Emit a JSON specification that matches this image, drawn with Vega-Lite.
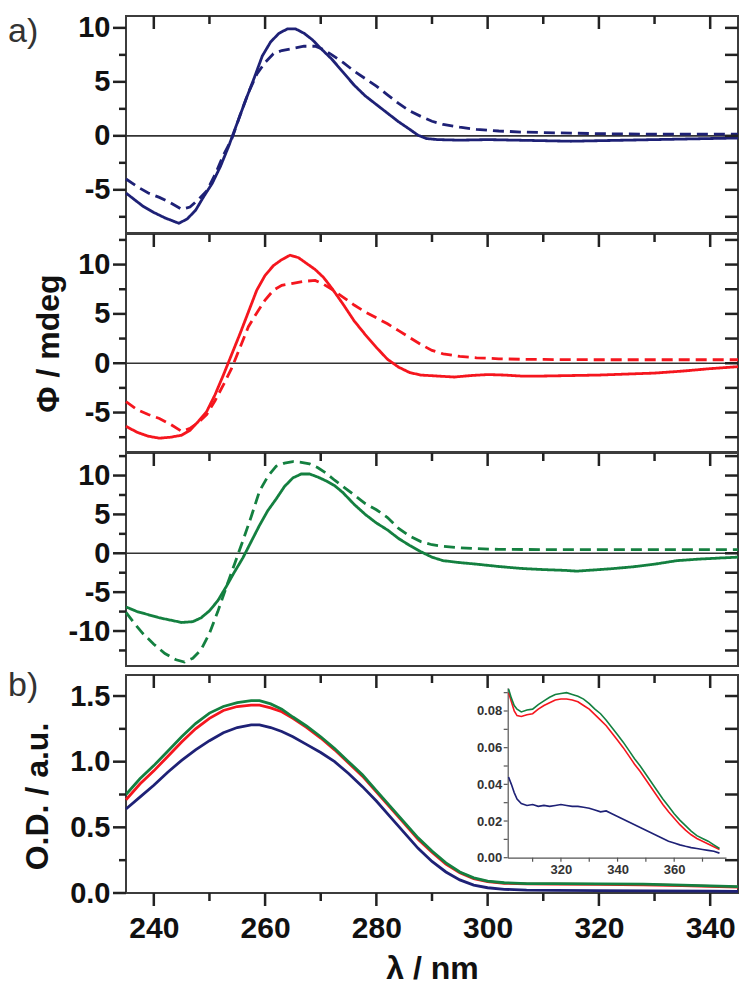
{
"$schema": "https://vega.github.io/schema/vega-lite/v6.json",
"padding": {"left": 7, "top": 12, "right": 0, "bottom": 0},
"spacing": -2,
"config": {
  "view": {"stroke": "#3c3c3c", "strokeWidth": 2},
  "font": "Liberation Sans",
  "tick": {"color": "#222222", "opacity": 1, "thickness": 2.5},
  "axis": {"grid": false, "domain": false, "ticks": false, "minExtent": 0, "labelFont": "Liberation Sans", "labelFontWeight": "bold", "labelFontSize": 29, "labelColor": "#111111", "labelPadding": 16, "titleFont": "Liberation Sans", "titleFontWeight": "bold", "titleFontSize": 32, "titleColor": "#111111"}
},
"datasets": {
"cd1": [
{"wl":235,"v":-5.3,"type":"solid"},{"wl":236.5,"v":-5.9,"type":"solid"},{"wl":238,"v":-6.5,"type":"solid"},{"wl":240,"v":-7.1,"type":"solid"},{"wl":242,"v":-7.6,"type":"solid"},{"wl":243.5,"v":-7.9,"type":"solid"},{"wl":244.5,"v":-8.1,"type":"solid"},{"wl":246,"v":-7.7,"type":"solid"},{"wl":247.5,"v":-6.9,"type":"solid"},{"wl":249,"v":-5.6,"type":"solid"},{"wl":250.5,"v":-4.4,"type":"solid"},{"wl":252,"v":-2.8,"type":"solid"},{"wl":253.5,"v":-0.9,"type":"solid"},{"wl":255,"v":1.2,"type":"solid"},{"wl":256.5,"v":3.3,"type":"solid"},{"wl":258,"v":5.3,"type":"solid"},{"wl":259.5,"v":7.4,"type":"solid"},{"wl":261,"v":8.7,"type":"solid"},{"wl":262.5,"v":9.5,"type":"solid"},{"wl":264,"v":9.9,"type":"solid"},{"wl":265.5,"v":9.9,"type":"solid"},{"wl":267,"v":9.5,"type":"solid"},{"wl":268.5,"v":8.9,"type":"solid"},{"wl":270,"v":8.1,"type":"solid"},{"wl":272,"v":7.1,"type":"solid"},{"wl":274,"v":5.9,"type":"solid"},{"wl":276,"v":4.7,"type":"solid"},{"wl":278,"v":3.7,"type":"solid"},{"wl":280,"v":2.9,"type":"solid"},{"wl":282,"v":2.1,"type":"solid"},{"wl":284,"v":1.3,"type":"solid"},{"wl":286,"v":0.6,"type":"solid"},{"wl":287.5,"v":0.05,"type":"solid"},{"wl":289,"v":-0.25,"type":"solid"},{"wl":291,"v":-0.35,"type":"solid"},{"wl":295,"v":-0.4,"type":"solid"},{"wl":300,"v":-0.35,"type":"solid"},{"wl":305,"v":-0.4,"type":"solid"},{"wl":310,"v":-0.45,"type":"solid"},{"wl":315,"v":-0.5,"type":"solid"},{"wl":320,"v":-0.45,"type":"solid"},{"wl":325,"v":-0.4,"type":"solid"},{"wl":330,"v":-0.35,"type":"solid"},{"wl":335,"v":-0.3,"type":"solid"},{"wl":340,"v":-0.25,"type":"solid"},{"wl":345,"v":-0.2,"type":"solid"},
{"wl":235,"v":-4.0,"type":"dashed"},{"wl":237,"v":-4.7,"type":"dashed"},{"wl":239,"v":-5.3,"type":"dashed"},{"wl":241,"v":-5.7,"type":"dashed"},{"wl":243,"v":-6.2,"type":"dashed"},{"wl":245,"v":-6.8,"type":"dashed"},{"wl":246.5,"v":-6.6,"type":"dashed"},{"wl":248,"v":-5.9,"type":"dashed"},{"wl":249.5,"v":-5.1,"type":"dashed"},{"wl":251,"v":-3.6,"type":"dashed"},{"wl":252.5,"v":-1.8,"type":"dashed"},{"wl":254,"v":-0.3,"type":"dashed"},{"wl":255.5,"v":1.9,"type":"dashed"},{"wl":257,"v":4.0,"type":"dashed"},{"wl":258.5,"v":5.7,"type":"dashed"},{"wl":260,"v":6.8,"type":"dashed"},{"wl":261.5,"v":7.6,"type":"dashed"},{"wl":263,"v":7.9,"type":"dashed"},{"wl":265,"v":8.1,"type":"dashed"},{"wl":267,"v":8.3,"type":"dashed"},{"wl":269,"v":8.3,"type":"dashed"},{"wl":270.5,"v":8.0,"type":"dashed"},{"wl":272,"v":7.5,"type":"dashed"},{"wl":274,"v":6.8,"type":"dashed"},{"wl":276,"v":6.0,"type":"dashed"},{"wl":278,"v":5.3,"type":"dashed"},{"wl":280,"v":4.6,"type":"dashed"},{"wl":282,"v":3.8,"type":"dashed"},{"wl":284,"v":3.0,"type":"dashed"},{"wl":286,"v":2.3,"type":"dashed"},{"wl":288,"v":1.8,"type":"dashed"},{"wl":290,"v":1.35,"type":"dashed"},{"wl":292,"v":1.05,"type":"dashed"},{"wl":295,"v":0.8,"type":"dashed"},{"wl":298,"v":0.6,"type":"dashed"},{"wl":302,"v":0.45,"type":"dashed"},{"wl":306,"v":0.35,"type":"dashed"},{"wl":310,"v":0.3,"type":"dashed"},{"wl":315,"v":0.25,"type":"dashed"},{"wl":320,"v":0.2,"type":"dashed"},{"wl":325,"v":0.18,"type":"dashed"},{"wl":330,"v":0.15,"type":"dashed"},{"wl":335,"v":0.15,"type":"dashed"},{"wl":340,"v":0.15,"type":"dashed"},{"wl":345,"v":0.15,"type":"dashed"}
],
"cd2": [
{"wl":235,"v":-6.4,"type":"solid"},{"wl":237,"v":-7.0,"type":"solid"},{"wl":239,"v":-7.4,"type":"solid"},{"wl":241,"v":-7.6,"type":"solid"},{"wl":243,"v":-7.5,"type":"solid"},{"wl":245,"v":-7.3,"type":"solid"},{"wl":246.5,"v":-6.8,"type":"solid"},{"wl":248,"v":-5.9,"type":"solid"},{"wl":249.5,"v":-4.9,"type":"solid"},{"wl":251,"v":-3.2,"type":"solid"},{"wl":252.5,"v":-1.2,"type":"solid"},{"wl":254,"v":0.9,"type":"solid"},{"wl":255.5,"v":3.0,"type":"solid"},{"wl":257,"v":5.2,"type":"solid"},{"wl":258.5,"v":7.4,"type":"solid"},{"wl":260,"v":8.9,"type":"solid"},{"wl":261.5,"v":9.9,"type":"solid"},{"wl":263,"v":10.5,"type":"solid"},{"wl":264.5,"v":10.95,"type":"solid"},{"wl":266,"v":10.7,"type":"solid"},{"wl":267.5,"v":10.1,"type":"solid"},{"wl":269,"v":9.5,"type":"solid"},{"wl":270.5,"v":8.7,"type":"solid"},{"wl":272,"v":7.6,"type":"solid"},{"wl":274,"v":6.0,"type":"solid"},{"wl":276,"v":4.3,"type":"solid"},{"wl":278,"v":2.9,"type":"solid"},{"wl":280,"v":1.6,"type":"solid"},{"wl":282,"v":0.4,"type":"solid"},{"wl":284,"v":-0.4,"type":"solid"},{"wl":286,"v":-0.95,"type":"solid"},{"wl":288,"v":-1.2,"type":"solid"},{"wl":291,"v":-1.3,"type":"solid"},{"wl":294,"v":-1.4,"type":"solid"},{"wl":297,"v":-1.25,"type":"solid"},{"wl":300,"v":-1.15,"type":"solid"},{"wl":303,"v":-1.2,"type":"solid"},{"wl":306,"v":-1.3,"type":"solid"},{"wl":310,"v":-1.3,"type":"solid"},{"wl":315,"v":-1.25,"type":"solid"},{"wl":320,"v":-1.2,"type":"solid"},{"wl":325,"v":-1.1,"type":"solid"},{"wl":330,"v":-1.0,"type":"solid"},{"wl":335,"v":-0.8,"type":"solid"},{"wl":340,"v":-0.55,"type":"solid"},{"wl":345,"v":-0.35,"type":"solid"},
{"wl":235,"v":-3.9,"type":"dashed"},{"wl":237,"v":-4.7,"type":"dashed"},{"wl":239,"v":-5.2,"type":"dashed"},{"wl":241,"v":-5.6,"type":"dashed"},{"wl":243,"v":-6.2,"type":"dashed"},{"wl":245,"v":-6.9,"type":"dashed"},{"wl":246.5,"v":-6.6,"type":"dashed"},{"wl":248,"v":-6.0,"type":"dashed"},{"wl":249.5,"v":-5.2,"type":"dashed"},{"wl":251,"v":-3.8,"type":"dashed"},{"wl":252.5,"v":-2.2,"type":"dashed"},{"wl":254,"v":-0.5,"type":"dashed"},{"wl":255.5,"v":1.6,"type":"dashed"},{"wl":257,"v":3.7,"type":"dashed"},{"wl":258.5,"v":5.1,"type":"dashed"},{"wl":260,"v":6.4,"type":"dashed"},{"wl":261.5,"v":7.4,"type":"dashed"},{"wl":263,"v":7.9,"type":"dashed"},{"wl":265,"v":8.1,"type":"dashed"},{"wl":267,"v":8.3,"type":"dashed"},{"wl":269,"v":8.4,"type":"dashed"},{"wl":270.5,"v":8.0,"type":"dashed"},{"wl":272,"v":7.5,"type":"dashed"},{"wl":274,"v":6.7,"type":"dashed"},{"wl":276,"v":5.9,"type":"dashed"},{"wl":278,"v":5.2,"type":"dashed"},{"wl":280,"v":4.6,"type":"dashed"},{"wl":282,"v":4.0,"type":"dashed"},{"wl":284,"v":3.3,"type":"dashed"},{"wl":286,"v":2.6,"type":"dashed"},{"wl":288,"v":1.9,"type":"dashed"},{"wl":290,"v":1.3,"type":"dashed"},{"wl":292,"v":0.95,"type":"dashed"},{"wl":295,"v":0.7,"type":"dashed"},{"wl":298,"v":0.55,"type":"dashed"},{"wl":302,"v":0.45,"type":"dashed"},{"wl":306,"v":0.4,"type":"dashed"},{"wl":310,"v":0.38,"type":"dashed"},{"wl":320,"v":0.35,"type":"dashed"},{"wl":330,"v":0.35,"type":"dashed"},{"wl":340,"v":0.35,"type":"dashed"},{"wl":345,"v":0.35,"type":"dashed"}
],
"cd3": [
{"wl":235,"v":-6.9,"type":"solid"},{"wl":237,"v":-7.5,"type":"solid"},{"wl":239,"v":-7.9,"type":"solid"},{"wl":241,"v":-8.3,"type":"solid"},{"wl":243,"v":-8.6,"type":"solid"},{"wl":245,"v":-8.9,"type":"solid"},{"wl":247,"v":-8.8,"type":"solid"},{"wl":248.5,"v":-8.3,"type":"solid"},{"wl":250,"v":-7.4,"type":"solid"},{"wl":251.5,"v":-6.1,"type":"solid"},{"wl":253,"v":-4.3,"type":"solid"},{"wl":254.5,"v":-2.4,"type":"solid"},{"wl":256,"v":-0.6,"type":"solid"},{"wl":257.5,"v":1.5,"type":"solid"},{"wl":259,"v":3.6,"type":"solid"},{"wl":260.5,"v":5.5,"type":"solid"},{"wl":262,"v":7.0,"type":"solid"},{"wl":263.5,"v":8.6,"type":"solid"},{"wl":265,"v":9.7,"type":"solid"},{"wl":266.5,"v":10.2,"type":"solid"},{"wl":268,"v":10.2,"type":"solid"},{"wl":269.5,"v":9.8,"type":"solid"},{"wl":271,"v":9.3,"type":"solid"},{"wl":272.5,"v":8.7,"type":"solid"},{"wl":274,"v":7.8,"type":"solid"},{"wl":276,"v":6.3,"type":"solid"},{"wl":278,"v":5.0,"type":"solid"},{"wl":280,"v":3.9,"type":"solid"},{"wl":282,"v":3.0,"type":"solid"},{"wl":284,"v":1.9,"type":"solid"},{"wl":286,"v":1.0,"type":"solid"},{"wl":288,"v":0.2,"type":"solid"},{"wl":290,"v":-0.5,"type":"solid"},{"wl":292,"v":-0.95,"type":"solid"},{"wl":295,"v":-1.2,"type":"solid"},{"wl":298,"v":-1.4,"type":"solid"},{"wl":302,"v":-1.7,"type":"solid"},{"wl":306,"v":-1.95,"type":"solid"},{"wl":310,"v":-2.1,"type":"solid"},{"wl":314,"v":-2.2,"type":"solid"},{"wl":316,"v":-2.3,"type":"solid"},{"wl":318,"v":-2.2,"type":"solid"},{"wl":322,"v":-2.0,"type":"solid"},{"wl":326,"v":-1.75,"type":"solid"},{"wl":330,"v":-1.4,"type":"solid"},{"wl":334,"v":-0.95,"type":"solid"},{"wl":338,"v":-0.75,"type":"solid"},{"wl":342,"v":-0.6,"type":"solid"},{"wl":345,"v":-0.5,"type":"solid"},
{"wl":235,"v":-7.6,"type":"dashed"},{"wl":236.5,"v":-9.0,"type":"dashed"},{"wl":238,"v":-10.3,"type":"dashed"},{"wl":240,"v":-11.7,"type":"dashed"},{"wl":242,"v":-12.9,"type":"dashed"},{"wl":244,"v":-13.7,"type":"dashed"},{"wl":245.5,"v":-14.0,"type":"dashed"},{"wl":247,"v":-13.5,"type":"dashed"},{"wl":248.5,"v":-12.4,"type":"dashed"},{"wl":250,"v":-10.3,"type":"dashed"},{"wl":251.5,"v":-7.5,"type":"dashed"},{"wl":253,"v":-4.4,"type":"dashed"},{"wl":254.5,"v":-1.4,"type":"dashed"},{"wl":256,"v":1.6,"type":"dashed"},{"wl":257.5,"v":4.7,"type":"dashed"},{"wl":259,"v":8.0,"type":"dashed"},{"wl":260.5,"v":9.9,"type":"dashed"},{"wl":262,"v":11.2,"type":"dashed"},{"wl":263.5,"v":11.6,"type":"dashed"},{"wl":265,"v":11.8,"type":"dashed"},{"wl":266.5,"v":11.7,"type":"dashed"},{"wl":268,"v":11.5,"type":"dashed"},{"wl":269.5,"v":11.0,"type":"dashed"},{"wl":271,"v":10.3,"type":"dashed"},{"wl":272.5,"v":9.4,"type":"dashed"},{"wl":274,"v":8.6,"type":"dashed"},{"wl":276,"v":7.5,"type":"dashed"},{"wl":278,"v":6.4,"type":"dashed"},{"wl":280,"v":5.6,"type":"dashed"},{"wl":282,"v":4.6,"type":"dashed"},{"wl":284,"v":3.2,"type":"dashed"},{"wl":286,"v":2.2,"type":"dashed"},{"wl":288,"v":1.5,"type":"dashed"},{"wl":290,"v":1.1,"type":"dashed"},{"wl":292,"v":0.9,"type":"dashed"},{"wl":295,"v":0.7,"type":"dashed"},{"wl":298,"v":0.6,"type":"dashed"},{"wl":302,"v":0.5,"type":"dashed"},{"wl":310,"v":0.48,"type":"dashed"},{"wl":320,"v":0.48,"type":"dashed"},{"wl":330,"v":0.48,"type":"dashed"},{"wl":340,"v":0.48,"type":"dashed"},{"wl":345,"v":0.48,"type":"dashed"}
],
"abs": [
{"s":"blue","wl":235,"v":0.64},{"s":"blue","wl":237.5,"v":0.73},{"s":"blue","wl":240,"v":0.82},{"s":"blue","wl":242.5,"v":0.92},{"s":"blue","wl":245,"v":1.01},{"s":"blue","wl":247.5,"v":1.09},{"s":"blue","wl":250,"v":1.16},{"s":"blue","wl":252.5,"v":1.22},{"s":"blue","wl":255,"v":1.26},{"s":"blue","wl":257.5,"v":1.28},{"s":"blue","wl":259,"v":1.28},{"s":"blue","wl":261,"v":1.26},{"s":"blue","wl":263,"v":1.23},{"s":"blue","wl":265,"v":1.19},{"s":"blue","wl":267.5,"v":1.13},{"s":"blue","wl":270,"v":1.07},{"s":"blue","wl":272.5,"v":1.0},{"s":"blue","wl":275,"v":0.91},{"s":"blue","wl":277.5,"v":0.81},{"s":"blue","wl":280,"v":0.7},{"s":"blue","wl":282.5,"v":0.58},{"s":"blue","wl":285,"v":0.46},{"s":"blue","wl":287.5,"v":0.34},{"s":"blue","wl":290,"v":0.24},{"s":"blue","wl":292.5,"v":0.16},{"s":"blue","wl":295,"v":0.1},{"s":"blue","wl":297.5,"v":0.06},{"s":"blue","wl":300,"v":0.04},{"s":"blue","wl":303,"v":0.028},{"s":"blue","wl":307,"v":0.022},{"s":"blue","wl":312,"v":0.02},{"s":"blue","wl":320,"v":0.018},{"s":"blue","wl":330,"v":0.016},{"s":"blue","wl":340,"v":0.014},{"s":"blue","wl":345,"v":0.013},
{"s":"red","wl":235,"v":0.71},{"s":"red","wl":237.5,"v":0.83},{"s":"red","wl":240,"v":0.93},{"s":"red","wl":242.5,"v":1.04},{"s":"red","wl":245,"v":1.15},{"s":"red","wl":247.5,"v":1.25},{"s":"red","wl":250,"v":1.33},{"s":"red","wl":252.5,"v":1.39},{"s":"red","wl":255,"v":1.42},{"s":"red","wl":257.5,"v":1.43},{"s":"red","wl":259,"v":1.43},{"s":"red","wl":261,"v":1.41},{"s":"red","wl":263,"v":1.38},{"s":"red","wl":265,"v":1.33},{"s":"red","wl":267.5,"v":1.26},{"s":"red","wl":270,"v":1.18},{"s":"red","wl":272.5,"v":1.09},{"s":"red","wl":275,"v":0.99},{"s":"red","wl":277.5,"v":0.89},{"s":"red","wl":280,"v":0.77},{"s":"red","wl":282.5,"v":0.65},{"s":"red","wl":285,"v":0.53},{"s":"red","wl":287.5,"v":0.41},{"s":"red","wl":290,"v":0.31},{"s":"red","wl":292.5,"v":0.22},{"s":"red","wl":295,"v":0.155},{"s":"red","wl":297.5,"v":0.11},{"s":"red","wl":300,"v":0.086},{"s":"red","wl":303,"v":0.074},{"s":"red","wl":307,"v":0.069},{"s":"red","wl":312,"v":0.068},{"s":"red","wl":320,"v":0.066},{"s":"red","wl":328,"v":0.063},{"s":"red","wl":335,"v":0.056},{"s":"red","wl":340,"v":0.05},{"s":"red","wl":345,"v":0.044},
{"s":"green","wl":235,"v":0.75},{"s":"green","wl":237.5,"v":0.87},{"s":"green","wl":240,"v":0.97},{"s":"green","wl":242.5,"v":1.08},{"s":"green","wl":245,"v":1.19},{"s":"green","wl":247.5,"v":1.29},{"s":"green","wl":250,"v":1.37},{"s":"green","wl":252.5,"v":1.42},{"s":"green","wl":255,"v":1.45},{"s":"green","wl":257.5,"v":1.465},{"s":"green","wl":259,"v":1.465},{"s":"green","wl":261,"v":1.44},{"s":"green","wl":263,"v":1.4},{"s":"green","wl":265,"v":1.34},{"s":"green","wl":267.5,"v":1.27},{"s":"green","wl":270,"v":1.19},{"s":"green","wl":272.5,"v":1.1},{"s":"green","wl":275,"v":1.0},{"s":"green","wl":277.5,"v":0.9},{"s":"green","wl":280,"v":0.78},{"s":"green","wl":282.5,"v":0.66},{"s":"green","wl":285,"v":0.54},{"s":"green","wl":287.5,"v":0.42},{"s":"green","wl":290,"v":0.32},{"s":"green","wl":292.5,"v":0.23},{"s":"green","wl":295,"v":0.16},{"s":"green","wl":297.5,"v":0.115},{"s":"green","wl":300,"v":0.09},{"s":"green","wl":303,"v":0.078},{"s":"green","wl":307,"v":0.072},{"s":"green","wl":312,"v":0.071},{"s":"green","wl":320,"v":0.07},{"s":"green","wl":328,"v":0.067},{"s":"green","wl":335,"v":0.06},{"s":"green","wl":340,"v":0.055},{"s":"green","wl":345,"v":0.048}
],
"inset": [
{"s":"blue","wl":301.5,"v":0.044},{"s":"blue","wl":302.5,"v":0.04},{"s":"blue","wl":303.5,"v":0.0355},{"s":"blue","wl":304.5,"v":0.032},{"s":"blue","wl":306,"v":0.0295},{"s":"blue","wl":308,"v":0.0285},{"s":"blue","wl":310,"v":0.029},{"s":"blue","wl":312,"v":0.028},{"s":"blue","wl":314,"v":0.0285},{"s":"blue","wl":316,"v":0.028},{"s":"blue","wl":318,"v":0.0285},{"s":"blue","wl":320,"v":0.029},{"s":"blue","wl":322,"v":0.0285},{"s":"blue","wl":324,"v":0.028},{"s":"blue","wl":326,"v":0.028},{"s":"blue","wl":328,"v":0.0275},{"s":"blue","wl":330,"v":0.027},{"s":"blue","wl":332,"v":0.026},{"s":"blue","wl":334,"v":0.025},{"s":"blue","wl":336,"v":0.0255},{"s":"blue","wl":338,"v":0.024},{"s":"blue","wl":340,"v":0.0225},{"s":"blue","wl":342,"v":0.021},{"s":"blue","wl":344,"v":0.0195},{"s":"blue","wl":346,"v":0.018},{"s":"blue","wl":348,"v":0.0165},{"s":"blue","wl":350,"v":0.015},{"s":"blue","wl":352,"v":0.0135},{"s":"blue","wl":354,"v":0.012},{"s":"blue","wl":356,"v":0.0105},{"s":"blue","wl":358,"v":0.009},{"s":"blue","wl":360,"v":0.008},{"s":"blue","wl":362,"v":0.007},{"s":"blue","wl":364,"v":0.0062},{"s":"blue","wl":366,"v":0.0055},{"s":"blue","wl":368,"v":0.005},{"s":"blue","wl":370,"v":0.0045},{"s":"blue","wl":372,"v":0.004},{"s":"blue","wl":374,"v":0.0035},{"s":"blue","wl":376,"v":0.0025},
{"s":"red","wl":301.5,"v":0.09},{"s":"red","wl":302.5,"v":0.085},{"s":"red","wl":303.5,"v":0.08},{"s":"red","wl":304.5,"v":0.0775},{"s":"red","wl":306,"v":0.077},{"s":"red","wl":308,"v":0.078},{"s":"red","wl":310,"v":0.0785},{"s":"red","wl":312,"v":0.081},{"s":"red","wl":314,"v":0.083},{"s":"red","wl":316,"v":0.0845},{"s":"red","wl":318,"v":0.086},{"s":"red","wl":320,"v":0.0865},{"s":"red","wl":322,"v":0.0865},{"s":"red","wl":324,"v":0.086},{"s":"red","wl":326,"v":0.085},{"s":"red","wl":328,"v":0.083},{"s":"red","wl":330,"v":0.081},{"s":"red","wl":332,"v":0.078},{"s":"red","wl":334,"v":0.075},{"s":"red","wl":336,"v":0.072},{"s":"red","wl":338,"v":0.068},{"s":"red","wl":340,"v":0.064},{"s":"red","wl":342,"v":0.06},{"s":"red","wl":344,"v":0.0555},{"s":"red","wl":346,"v":0.051},{"s":"red","wl":348,"v":0.047},{"s":"red","wl":350,"v":0.0425},{"s":"red","wl":352,"v":0.038},{"s":"red","wl":354,"v":0.0335},{"s":"red","wl":356,"v":0.029},{"s":"red","wl":358,"v":0.025},{"s":"red","wl":360,"v":0.0215},{"s":"red","wl":362,"v":0.018},{"s":"red","wl":364,"v":0.015},{"s":"red","wl":366,"v":0.0125},{"s":"red","wl":368,"v":0.0105},{"s":"red","wl":370,"v":0.009},{"s":"red","wl":372,"v":0.0075},{"s":"red","wl":374,"v":0.006},{"s":"red","wl":376,"v":0.0045},
{"s":"green","wl":301.5,"v":0.092},{"s":"green","wl":302.5,"v":0.087},{"s":"green","wl":303.5,"v":0.083},{"s":"green","wl":304.5,"v":0.081},{"s":"green","wl":306,"v":0.0795},{"s":"green","wl":308,"v":0.0805},{"s":"green","wl":310,"v":0.081},{"s":"green","wl":312,"v":0.0835},{"s":"green","wl":314,"v":0.0855},{"s":"green","wl":316,"v":0.0875},{"s":"green","wl":318,"v":0.089},{"s":"green","wl":320,"v":0.0895},{"s":"green","wl":322,"v":0.09},{"s":"green","wl":324,"v":0.089},{"s":"green","wl":326,"v":0.088},{"s":"green","wl":328,"v":0.0865},{"s":"green","wl":330,"v":0.084},{"s":"green","wl":332,"v":0.081},{"s":"green","wl":334,"v":0.0785},{"s":"green","wl":336,"v":0.075},{"s":"green","wl":338,"v":0.071},{"s":"green","wl":340,"v":0.067},{"s":"green","wl":342,"v":0.063},{"s":"green","wl":344,"v":0.0585},{"s":"green","wl":346,"v":0.054},{"s":"green","wl":348,"v":0.05},{"s":"green","wl":350,"v":0.0455},{"s":"green","wl":352,"v":0.041},{"s":"green","wl":354,"v":0.0365},{"s":"green","wl":356,"v":0.032},{"s":"green","wl":358,"v":0.028},{"s":"green","wl":360,"v":0.024},{"s":"green","wl":362,"v":0.0205},{"s":"green","wl":364,"v":0.0175},{"s":"green","wl":366,"v":0.0145},{"s":"green","wl":368,"v":0.012},{"s":"green","wl":370,"v":0.0105},{"s":"green","wl":372,"v":0.009},{"s":"green","wl":374,"v":0.007},{"s":"green","wl":376,"v":0.005}
]
},
"vconcat": [
{
 "width": 612, "height": 217,
 "resolve": {"axis": {"x": "independent", "y": "independent"}},
 "layer": [
  {"data": {"values": [{"z": 0}]}, "mark": {"type": "rule", "color": "#333333", "strokeWidth": 1.6},
   "encoding": {"y": {"field": "z", "type": "quantitative", "scale": {"domain": [-9, 11.1], "nice": false, "zero": false}, "axis": null}}},
  {"data": {"name": "cd1"}, "mark": {"type": "line", "color": "#1e2176", "strokeWidth": 2.8},
   "encoding": {
    "x": {"field": "wl", "type": "quantitative", "scale": {"domain": [235, 345], "nice": false, "zero": false}, "axis": null},
    "y": {"field": "v", "type": "quantitative", "scale": {"domain": [-9, 11.1], "nice": false, "zero": false}, "axis": {"orient": "left", "values": [-5,0,5,10], "labelExpr": "replace(datum.label, '\u2212', '-')", "title": null}},
    "strokeDash": {"field": "type", "type": "nominal", "scale": {"domain": ["solid","dashed"], "range": [[1,0],[11,6]]}, "legend": null}
   }},
  {"data": {"values": [{"t": -5}, {"t": 0}, {"t": 5}, {"t": 10}]}, "mark": {"type": "tick", "orient": "horizontal", "size": 13, "xOffset": -6.5},
   "encoding": {"y": {"field": "t", "type": "quantitative", "scale": {"domain": [-9, 11.1], "nice": false, "zero": false}, "axis": null}, "x": {"datum": 235, "type": "quantitative", "scale": {"domain": [235, 345], "nice": false, "zero": false}, "axis": null}}},
  {"data": {"values": [{"t": -7.5}, {"t": -2.5}, {"t": 2.5}, {"t": 7.5}]}, "mark": {"type": "tick", "orient": "horizontal", "size": 7, "xOffset": -3.5},
   "encoding": {"y": {"field": "t", "type": "quantitative", "scale": {"domain": [-9, 11.1], "nice": false, "zero": false}, "axis": null}, "x": {"datum": 235, "type": "quantitative", "scale": {"domain": [235, 345], "nice": false, "zero": false}, "axis": null}}},
  {"data": {"values": [{"t": -7.5}, {"t": -5}, {"t": -2.5}, {"t": 0}, {"t": 2.5}, {"t": 5}, {"t": 7.5}, {"t": 10}]}, "mark": {"type": "tick", "orient": "horizontal", "size": 13, "xOffset": -6.5},
   "encoding": {"y": {"field": "t", "type": "quantitative", "scale": {"domain": [-9, 11.1], "nice": false, "zero": false}, "axis": null}, "x": {"datum": 345, "type": "quantitative", "scale": {"domain": [235, 345], "nice": false, "zero": false}, "axis": null}}},
  {"data": {"values": [{"t": 240}, {"t": 260}, {"t": 280}, {"t": 300}, {"t": 320}, {"t": 340}]}, "mark": {"type": "tick", "orient": "vertical", "size": 13, "yOffset": 6.5},
   "encoding": {"x": {"field": "t", "type": "quantitative", "scale": {"domain": [235, 345], "nice": false, "zero": false}, "axis": null}, "y": {"datum": 11.1, "type": "quantitative", "scale": {"domain": [-9, 11.1], "nice": false, "zero": false}, "axis": null}}},
  {"data": {"values": [{"t": 250}, {"t": 270}, {"t": 290}, {"t": 310}, {"t": 330}]}, "mark": {"type": "tick", "orient": "vertical", "size": 8, "yOffset": 4},
   "encoding": {"x": {"field": "t", "type": "quantitative", "scale": {"domain": [235, 345], "nice": false, "zero": false}, "axis": null}, "y": {"datum": 11.1, "type": "quantitative", "scale": {"domain": [-9, 11.1], "nice": false, "zero": false}, "axis": null}}},
  {"data": {"values": [{"label": "a)"}]}, "mark": {"type": "text", "align": "left", "baseline": "middle", "fontSize": 34, "font": "Liberation Sans", "color": "#333333"},
   "encoding": {
    "x": {"datum": 213.8, "type": "quantitative", "scale": {"domain": [235, 345], "nice": false, "zero": false}, "axis": null},
    "y": {"datum": 9.6, "type": "quantitative", "scale": {"domain": [-9, 11.1], "nice": false, "zero": false}, "axis": null},
    "text": {"field": "label"}
   }}
 ]
},
{
 "width": 612, "height": 218,
 "resolve": {"axis": {"x": "independent", "y": "independent"}},
 "layer": [
  {"data": {"values": [{"z": 0}]}, "mark": {"type": "rule", "color": "#333333", "strokeWidth": 1.6},
   "encoding": {"y": {"field": "z", "type": "quantitative", "scale": {"domain": [-9, 13.1], "nice": false, "zero": false}, "axis": null}}},
  {"data": {"name": "cd2"}, "mark": {"type": "line", "color": "#f5161e", "strokeWidth": 2.8},
   "encoding": {
    "x": {"field": "wl", "type": "quantitative", "scale": {"domain": [235, 345], "nice": false, "zero": false}, "axis": null},
    "y": {"field": "v", "type": "quantitative", "scale": {"domain": [-9, 13.1], "nice": false, "zero": false}, "axis": {"orient": "left", "values": [-5,0,5,10], "labelExpr": "replace(datum.label, '\u2212', '-')", "title": "Φ / mdeg", "titlePadding": 12}},
    "strokeDash": {"field": "type", "type": "nominal", "scale": {"domain": ["solid","dashed"], "range": [[1,0],[11,6]]}, "legend": null}
   }},
  {"data": {"values": [{"t": -5}, {"t": 0}, {"t": 5}, {"t": 10}]}, "mark": {"type": "tick", "orient": "horizontal", "size": 13, "xOffset": -6.5},
   "encoding": {"y": {"field": "t", "type": "quantitative", "scale": {"domain": [-9, 13.1], "nice": false, "zero": false}, "axis": null}, "x": {"datum": 235, "type": "quantitative", "scale": {"domain": [235, 345], "nice": false, "zero": false}, "axis": null}}},
  {"data": {"values": [{"t": -7.5}, {"t": -2.5}, {"t": 2.5}, {"t": 7.5}, {"t": 12.5}]}, "mark": {"type": "tick", "orient": "horizontal", "size": 7, "xOffset": -3.5},
   "encoding": {"y": {"field": "t", "type": "quantitative", "scale": {"domain": [-9, 13.1], "nice": false, "zero": false}, "axis": null}, "x": {"datum": 235, "type": "quantitative", "scale": {"domain": [235, 345], "nice": false, "zero": false}, "axis": null}}},
  {"data": {"values": [{"t": -7.5}, {"t": -5}, {"t": -2.5}, {"t": 0}, {"t": 2.5}, {"t": 5}, {"t": 7.5}, {"t": 10}, {"t": 12.5}]}, "mark": {"type": "tick", "orient": "horizontal", "size": 13, "xOffset": -6.5},
   "encoding": {"y": {"field": "t", "type": "quantitative", "scale": {"domain": [-9, 13.1], "nice": false, "zero": false}, "axis": null}, "x": {"datum": 345, "type": "quantitative", "scale": {"domain": [235, 345], "nice": false, "zero": false}, "axis": null}}},
  {"data": {"values": [{"t": 240}, {"t": 260}, {"t": 280}, {"t": 300}, {"t": 320}, {"t": 340}]}, "mark": {"type": "tick", "orient": "vertical", "size": 13, "yOffset": 6.5},
   "encoding": {"x": {"field": "t", "type": "quantitative", "scale": {"domain": [235, 345], "nice": false, "zero": false}, "axis": null}, "y": {"datum": 13.1, "type": "quantitative", "scale": {"domain": [-9, 13.1], "nice": false, "zero": false}, "axis": null}}},
  {"data": {"values": [{"t": 250}, {"t": 270}, {"t": 290}, {"t": 310}, {"t": 330}]}, "mark": {"type": "tick", "orient": "vertical", "size": 8, "yOffset": 4},
   "encoding": {"x": {"field": "t", "type": "quantitative", "scale": {"domain": [235, 345], "nice": false, "zero": false}, "axis": null}, "y": {"datum": 13.1, "type": "quantitative", "scale": {"domain": [-9, 13.1], "nice": false, "zero": false}, "axis": null}}}
 ]
},
{
 "width": 612, "height": 213,
 "resolve": {"axis": {"x": "independent", "y": "independent"}},
 "layer": [
  {"data": {"values": [{"z": 0}]}, "mark": {"type": "rule", "color": "#333333", "strokeWidth": 1.6},
   "encoding": {"y": {"field": "z", "type": "quantitative", "scale": {"domain": [-14.5, 12.9], "nice": false, "zero": false}, "axis": null}}},
  {"data": {"name": "cd3"}, "mark": {"type": "line", "color": "#148040", "strokeWidth": 2.8},
   "encoding": {
    "x": {"field": "wl", "type": "quantitative", "scale": {"domain": [235, 345], "nice": false, "zero": false}, "axis": null},
    "y": {"field": "v", "type": "quantitative", "scale": {"domain": [-14.5, 12.9], "nice": false, "zero": false}, "axis": {"orient": "left", "values": [-10,-5,0,5,10], "labelExpr": "replace(datum.label, '\u2212', '-')", "title": null}},
    "strokeDash": {"field": "type", "type": "nominal", "scale": {"domain": ["solid","dashed"], "range": [[1,0],[11,6]]}, "legend": null}
   }},
  {"data": {"values": [{"t": -10}, {"t": -5}, {"t": 0}, {"t": 5}, {"t": 10}]}, "mark": {"type": "tick", "orient": "horizontal", "size": 13, "xOffset": -6.5},
   "encoding": {"y": {"field": "t", "type": "quantitative", "scale": {"domain": [-14.5, 12.9], "nice": false, "zero": false}, "axis": null}, "x": {"datum": 235, "type": "quantitative", "scale": {"domain": [235, 345], "nice": false, "zero": false}, "axis": null}}},
  {"data": {"values": [{"t": -12.5}, {"t": -7.5}, {"t": -2.5}, {"t": 2.5}, {"t": 7.5}, {"t": 12.5}]}, "mark": {"type": "tick", "orient": "horizontal", "size": 7, "xOffset": -3.5},
   "encoding": {"y": {"field": "t", "type": "quantitative", "scale": {"domain": [-14.5, 12.9], "nice": false, "zero": false}, "axis": null}, "x": {"datum": 235, "type": "quantitative", "scale": {"domain": [235, 345], "nice": false, "zero": false}, "axis": null}}},
  {"data": {"values": [{"t": -12.5}, {"t": -10}, {"t": -7.5}, {"t": -5}, {"t": -2.5}, {"t": 0}, {"t": 2.5}, {"t": 5}, {"t": 7.5}, {"t": 10}, {"t": 12.5}]}, "mark": {"type": "tick", "orient": "horizontal", "size": 13, "xOffset": -6.5},
   "encoding": {"y": {"field": "t", "type": "quantitative", "scale": {"domain": [-14.5, 12.9], "nice": false, "zero": false}, "axis": null}, "x": {"datum": 345, "type": "quantitative", "scale": {"domain": [235, 345], "nice": false, "zero": false}, "axis": null}}},
  {"data": {"values": [{"t": 240}, {"t": 260}, {"t": 280}, {"t": 300}, {"t": 320}, {"t": 340}]}, "mark": {"type": "tick", "orient": "vertical", "size": 13, "yOffset": 6.5},
   "encoding": {"x": {"field": "t", "type": "quantitative", "scale": {"domain": [235, 345], "nice": false, "zero": false}, "axis": null}, "y": {"datum": 12.9, "type": "quantitative", "scale": {"domain": [-14.5, 12.9], "nice": false, "zero": false}, "axis": null}}},
  {"data": {"values": [{"t": 250}, {"t": 270}, {"t": 290}, {"t": 310}, {"t": 330}]}, "mark": {"type": "tick", "orient": "vertical", "size": 8, "yOffset": 4},
   "encoding": {"x": {"field": "t", "type": "quantitative", "scale": {"domain": [235, 345], "nice": false, "zero": false}, "axis": null}, "y": {"datum": 12.9, "type": "quantitative", "scale": {"domain": [-14.5, 12.9], "nice": false, "zero": false}, "axis": null}}}
 ]
},
{
 "width": 612, "height": 218,
 "resolve": {"scale": {"x": "independent", "y": "independent"}, "axis": {"x": "independent", "y": "independent"}},
 "layer": [
  {"data": {"name": "abs"}, "mark": {"type": "line", "strokeWidth": 2.8},
   "encoding": {
    "x": {"field": "wl", "type": "quantitative", "scale": {"domain": [235, 345], "nice": false, "zero": false}, "axis": {"orient": "bottom", "values": [240,260,280,300,320,340], "labelFontSize": 30, "labelPadding": 20, "title": "λ / nm", "titlePadding": 10}},
    "y": {"field": "v", "type": "quantitative", "scale": {"domain": [0, 1.66], "nice": false, "zero": false}, "axis": {"orient": "left", "values": [0, 0.5, 1, 1.5], "format": ".1f", "title": "O.D. / a.u.", "titlePadding": 15, "titleY": 121}},
    "color": {"field": "s", "type": "nominal", "scale": {"domain": ["blue","red","green"], "range": ["#1e2176","#f5161e","#148040"]}, "legend": null}
   }},
  {"data": {"values": [{"t": 0}, {"t": 0.5}, {"t": 1}, {"t": 1.5}]}, "mark": {"type": "tick", "orient": "horizontal", "size": 13, "xOffset": -6.5},
   "encoding": {"y": {"field": "t", "type": "quantitative", "scale": {"domain": [0, 1.66], "nice": false, "zero": false}, "axis": null}, "x": {"datum": 235, "type": "quantitative", "scale": {"domain": [235, 345], "nice": false, "zero": false}, "axis": null}}},
  {"data": {"values": [{"t": 0.25}, {"t": 0.75}, {"t": 1.25}]}, "mark": {"type": "tick", "orient": "horizontal", "size": 7, "xOffset": -3.5},
   "encoding": {"y": {"field": "t", "type": "quantitative", "scale": {"domain": [0, 1.66], "nice": false, "zero": false}, "axis": null}, "x": {"datum": 235, "type": "quantitative", "scale": {"domain": [235, 345], "nice": false, "zero": false}, "axis": null}}},
  {"data": {"values": [{"t": 0.25}, {"t": 0.5}, {"t": 0.75}, {"t": 1}, {"t": 1.25}, {"t": 1.5}]}, "mark": {"type": "tick", "orient": "horizontal", "size": 13, "xOffset": -6.5},
   "encoding": {"y": {"field": "t", "type": "quantitative", "scale": {"domain": [0, 1.66], "nice": false, "zero": false}, "axis": null}, "x": {"datum": 345, "type": "quantitative", "scale": {"domain": [235, 345], "nice": false, "zero": false}, "axis": null}}},
  {"data": {"values": [{"t": 240}, {"t": 260}, {"t": 280}, {"t": 300}, {"t": 320}, {"t": 340}]}, "mark": {"type": "tick", "orient": "vertical", "size": 13, "yOffset": 6.5},
   "encoding": {"x": {"field": "t", "type": "quantitative", "scale": {"domain": [235, 345], "nice": false, "zero": false}, "axis": null}, "y": {"datum": 1.66, "type": "quantitative", "scale": {"domain": [0, 1.66], "nice": false, "zero": false}, "axis": null}}},
  {"data": {"values": [{"t": 250}, {"t": 270}, {"t": 290}, {"t": 310}, {"t": 330}]}, "mark": {"type": "tick", "orient": "vertical", "size": 8, "yOffset": 4},
   "encoding": {"x": {"field": "t", "type": "quantitative", "scale": {"domain": [235, 345], "nice": false, "zero": false}, "axis": null}, "y": {"datum": 1.66, "type": "quantitative", "scale": {"domain": [0, 1.66], "nice": false, "zero": false}, "axis": null}}},
  {"data": {"values": [{"t": 240}, {"t": 260}, {"t": 280}, {"t": 300}, {"t": 320}, {"t": 340}]}, "mark": {"type": "tick", "orient": "vertical", "size": 13, "yOffset": 6.5},
   "encoding": {"x": {"field": "t", "type": "quantitative", "scale": {"domain": [235, 345], "nice": false, "zero": false}, "axis": null}, "y": {"datum": 0, "type": "quantitative", "scale": {"domain": [0, 1.66], "nice": false, "zero": false}, "axis": null}}},
  {"data": {"values": [{"t": 250}, {"t": 270}, {"t": 290}, {"t": 310}, {"t": 330}]}, "mark": {"type": "tick", "orient": "vertical", "size": 8, "yOffset": 4},
   "encoding": {"x": {"field": "t", "type": "quantitative", "scale": {"domain": [235, 345], "nice": false, "zero": false}, "axis": null}, "y": {"datum": 0, "type": "quantitative", "scale": {"domain": [0, 1.66], "nice": false, "zero": false}, "axis": null}}},
  {"data": {"name": "inset"}, "mark": {"type": "line", "strokeWidth": 1.6},
   "encoding": {
    "x": {"field": "wl", "type": "quantitative", "scale": {"domain": [301.2, 378.3], "range": [381.7, 600], "nice": false, "zero": false}, "axis": {"orient": "bottom", "offset": -35.3, "values": [320,340,360], "domain": true, "domainColor": "#555555", "domainWidth": 1.2, "labelFontSize": 13, "labelPadding": 6, "labelColor": "#333333", "title": null}},
    "y": {"field": "v", "type": "quantitative", "scale": {"domain": [0, 0.0927], "range": [182.7, 12.7], "nice": false, "zero": false}, "axis": {"orient": "left", "offset": -381.7, "values": [0,0.02,0.04,0.06,0.08], "format": ".2f", "domain": true, "domainColor": "#555555", "domainWidth": 1.2, "labelFontSize": 13, "labelPadding": 6, "labelColor": "#333333", "title": null}},
    "color": {"field": "s", "type": "nominal", "scale": {"domain": ["blue","red","green"], "range": ["#1e2176","#f5161e","#148040"]}, "legend": null}
   }},
  {"data": {"values": [{"t": 0}, {"t": 0.01}, {"t": 0.02}, {"t": 0.03}, {"t": 0.04}, {"t": 0.05}, {"t": 0.06}, {"t": 0.07}, {"t": 0.08}, {"t": 0.09}]}, "mark": {"type": "tick", "orient": "horizontal", "size": 4, "thickness": 1.2, "xOffset": -2, "color": "#555555"},
   "encoding": {"y": {"field": "t", "type": "quantitative", "scale": {"domain": [0, 0.0927], "range": [182.7, 12.7], "nice": false, "zero": false}, "axis": null}, "x": {"datum": 301.2, "type": "quantitative", "scale": {"domain": [301.2, 378.3], "range": [381.7, 600], "nice": false, "zero": false}, "axis": null}}},
  {"data": {"values": [{"t": 310}, {"t": 320}, {"t": 330}, {"t": 340}, {"t": 350}, {"t": 360}, {"t": 370}]}, "mark": {"type": "tick", "orient": "vertical", "size": 4, "thickness": 1.2, "yOffset": 2, "color": "#555555"},
   "encoding": {"x": {"field": "t", "type": "quantitative", "scale": {"domain": [301.2, 378.3], "range": [381.7, 600], "nice": false, "zero": false}, "axis": null}, "y": {"datum": 0, "type": "quantitative", "scale": {"domain": [0, 0.0927], "range": [182.7, 12.7], "nice": false, "zero": false}, "axis": null}}},
  {"data": {"values": [{"label": "b)"}]}, "mark": {"type": "text", "align": "left", "baseline": "middle", "fontSize": 34, "font": "Liberation Sans", "color": "#333333"},
   "encoding": {
    "x": {"datum": 213.8, "type": "quantitative", "scale": {"domain": [235, 345], "nice": false, "zero": false}, "axis": null},
    "y": {"datum": 1.58, "type": "quantitative", "scale": {"domain": [0, 1.66], "nice": false, "zero": false}, "axis": null},
    "text": {"field": "label"}
   }}
 ]
}
]
}
